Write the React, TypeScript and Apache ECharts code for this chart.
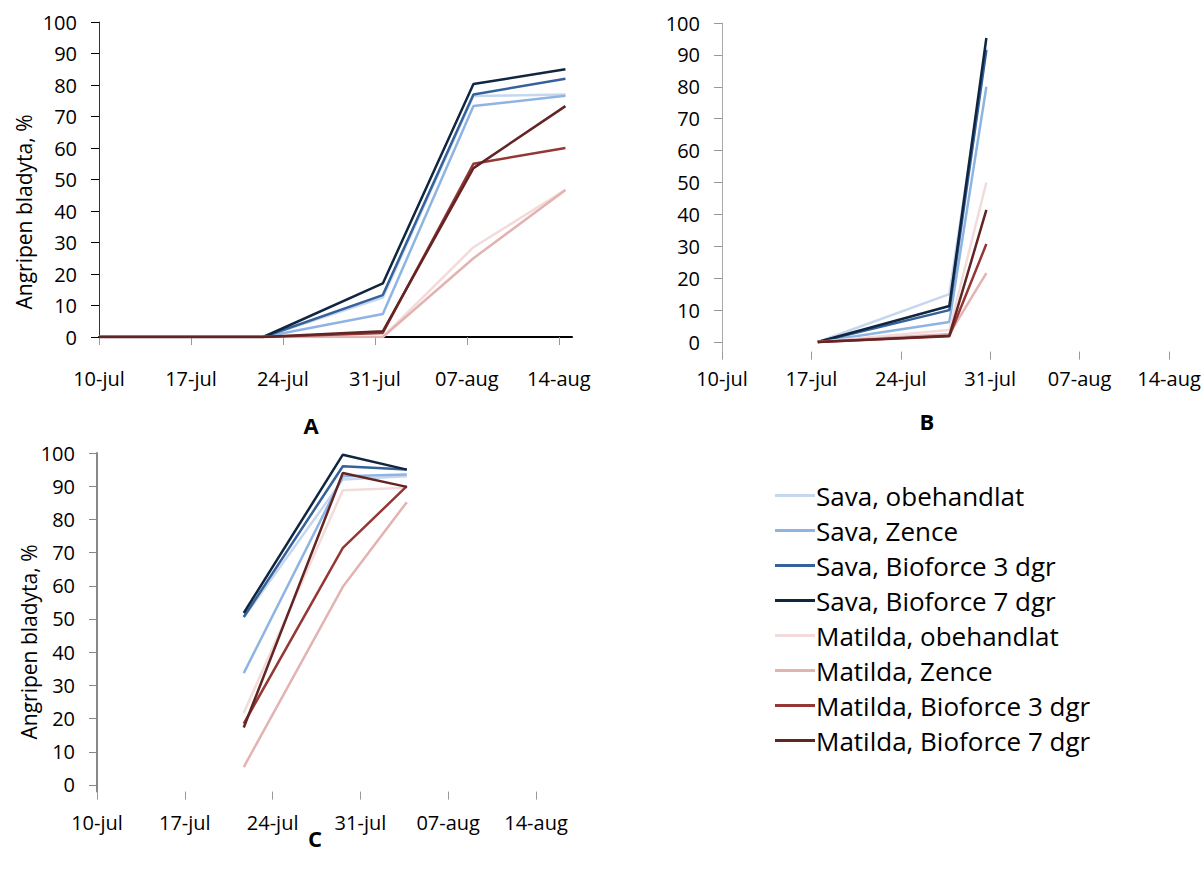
import React, { useEffect, useRef } from "react";
import * as echarts from "echarts";

// ---------- axis ticks / labels ----------
const tickDays = [0, 7, 14, 21, 28, 35]; // days after 10-jul
const tickLabels = ["10-jul", "17-jul", "24-jul", "31-jul", "07-aug", "14-aug"];
const yTicks = [0, 10, 20, 30, 40, 50, 60, 70, 80, 90, 100];

// ---------- series ----------
const seriesNames = [
  "Sava, obehandlat",
  "Sava, Zence",
  "Sava, Bioforce 3 dgr",
  "Sava, Bioforce 7 dgr",
  "Matilda, obehandlat",
  "Matilda, Zence",
  "Matilda, Bioforce 3 dgr",
  "Matilda, Bioforce 7 dgr",
];
const seriesColors = [
  "#c6d7ee",
  "#8db4e2",
  "#35629a",
  "#10253f",
  "#f2dcdb",
  "#e3b3b2",
  "#953735",
  "#632523",
];

// Panel A (days after 10-jul)
const daysA = [0, 12.5, 21.6, 28.5, 35.5];
const savaObehandlatA = [0, 0, 12.5, 76.5, 77];
const savaZenceA = [0, 0, 7.3, 73.3, 76.6];
const savaBio3A = [0, 0, 13.3, 77, 82];
const savaBio7A = [0, 0, 17, 80.3, 85];
const matildaObehandlatA = [0, 0, 0, 28.5, 46.7];
const matildaZenceA = [0, 0, 0, 25, 46.7];
const matildaBio3A = [0, 0, 1.3, 55, 60];
const matildaBio7A = [0, 0, 1.8, 53.6, 73.3];

// Panel B
const daysB = [7.5, 17.8, 20.7];
const savaObehandlatB = [0, 15, 92];
const savaZenceB = [0, 6.3, 80];
const savaBio3B = [0, 10, 91.5];
const savaBio7B = [0, 11.3, 95.3];
const matildaObehandlatB = [0, 3.8, 50];
const matildaZenceB = [0, 2.5, 21.6];
const matildaBio3B = [0, 1.8, 30.7];
const matildaBio7B = [0, 2, 41.4];

// Panel C
const daysC = [11.7, 19.6, 24.7];
const savaObehandlatC = [50.5, 92, 93];
const savaZenceC = [33.7, 93, 93.5];
const savaBio3C = [50.6, 96, 95];
const savaBio7C = [51.8, 99.5, 95];
const matildaObehandlatC = [21.7, 88.8, 89.5];
const matildaZenceC = [5.4, 59.7, 85.2];
const matildaBio3C = [18.5, 71.4, 90];
const matildaBio7C = [17.3, 94, 89.8];

const panelA = [savaObehandlatA, savaZenceA, savaBio3A, savaBio7A, matildaObehandlatA, matildaZenceA, matildaBio3A, matildaBio7A];
const panelB = [savaObehandlatB, savaZenceB, savaBio3B, savaBio7B, matildaObehandlatB, matildaZenceB, matildaBio3B, matildaBio7B];
const panelC = [savaObehandlatC, savaZenceC, savaBio3C, savaBio7C, matildaObehandlatC, matildaZenceC, matildaBio3C, matildaBio7C];

const yTitle = "Angripen bladyta, %";
const panelLetters = ["A", "B", "C"];

const FONT = "Open Sans";

export default function App() {
  const ref = useRef<HTMLDivElement>(null);

  useEffect(() => {
    document.body.style.margin = "0";
    if (!ref.current) return;
    const chart = echarts.init(ref.current, null, { renderer: "svg" });

    const labelStyle = { fontFamily: FONT, fontSize: 20, color: "#000" };

    const makeX = (gridIndex: number, max: number, opts: any) => ({
      type: "value",
      gridIndex,
      min: 0,
      max,
      axisLine: { show: opts.line, onZero: false, lineStyle: { color: "#000", width: 2 } },
      axisTick: {
        show: true,
        customValues: tickDays,
        length: 8,
        lineStyle: { color: "#999", width: 1 },
      },
      axisLabel: {
        ...labelStyle,
        customValues: tickDays,
        margin: opts.margin,
        formatter: (v: number) => tickLabels[tickDays.indexOf(v)] ?? "",
      },
      splitLine: { show: false },
    });

    const makeY = (gridIndex: number, min: number, opts: any) => ({
      type: "value",
      gridIndex,
      min,
      max: 100,
      axisLine: { show: true, onZero: false, lineStyle: { color: opts.color, width: opts.width } },
      axisTick: {
        show: true,
        customValues: yTicks,
        length: 8,
        lineStyle: { color: opts.tickColor, width: 1 },
      },
      axisLabel: {
        ...labelStyle,
        customValues: yTicks,
        margin: 22,
      },
      splitLine: { show: false },
    });

    const series: any[] = [];
    const panels = [
      { days: daysA, vals: panelA },
      { days: daysB, vals: panelB },
      { days: daysC, vals: panelC },
    ];
    panels.forEach((p, pi) => {
      p.vals.forEach((vals, si) => {
        series.push({
          type: "line",
          name: seriesNames[si],
          xAxisIndex: pi,
          yAxisIndex: pi,
          data: vals.map((v, i) => [p.days[i], v]),
          showSymbol: false,
          symbol: "none",
          color: seriesColors[si],
          lineStyle: { color: seriesColors[si], width: 2.5 },
          z: 2 + si,
        });
      });
    });

    const titleStyle = { text: yTitle, fontFamily: FONT, fontSize: 21, fill: "#000", align: "center", verticalAlign: "middle" };
    const letterStyle = { fontFamily: FONT, fontSize: 22, fontWeight: "bold", fill: "#000", align: "center", verticalAlign: "middle" };

    chart.setOption({
      animation: false,
      backgroundColor: "#fff",
      grid: [
        { left: 99, top: 22, width: 473, height: 315 },
        { left: 722, top: 23, width: 447, height: 328.6 },
        { left: 97, top: 453, width: 439, height: 338.6 },
      ],
      xAxis: [
        makeX(0, 36, { line: true, margin: 31 }),
        makeX(1, 35, { line: false, margin: 17 }),
        makeX(2, 35, { line: false, margin: 21 }),
      ],
      yAxis: [
        makeY(0, 0, { color: "#333", width: 1, tickColor: "#000" }),
        makeY(1, -3, { color: "#aaa", width: 1, tickColor: "#999" }),
        makeY(2, -2, { color: "#888", width: 2, tickColor: "#888" }),
      ],
      legend: {
        left: 770,
        top: 473,
        orient: "vertical",
        icon: "rect",
        itemWidth: 40,
        itemHeight: 3,
        itemGap: 0,
        selectedMode: false,
        textStyle: { fontFamily: FONT, fontSize: 26, color: "#000", lineHeight: 35, padding: [0, 0, 0, -4] },
        data: seriesNames,
      },
      graphic: [
        { type: "text", x: 24, y: 212, rotation: Math.PI / 2, style: titleStyle },
        { type: "text", x: 29, y: 642, rotation: Math.PI / 2, style: titleStyle },
        { type: "text", x: 311, y: 425, style: { ...letterStyle, text: panelLetters[0] } },
        { type: "text", x: 927, y: 421, style: { ...letterStyle, text: panelLetters[1] } },
        { type: "text", x: 315, y: 838, style: { ...letterStyle, text: panelLetters[2] } },
      ],
      series,
    });

    return () => chart.dispose();
  }, []);

  return <div ref={ref} style={{ width: 1204, height: 877 }} />;
}
